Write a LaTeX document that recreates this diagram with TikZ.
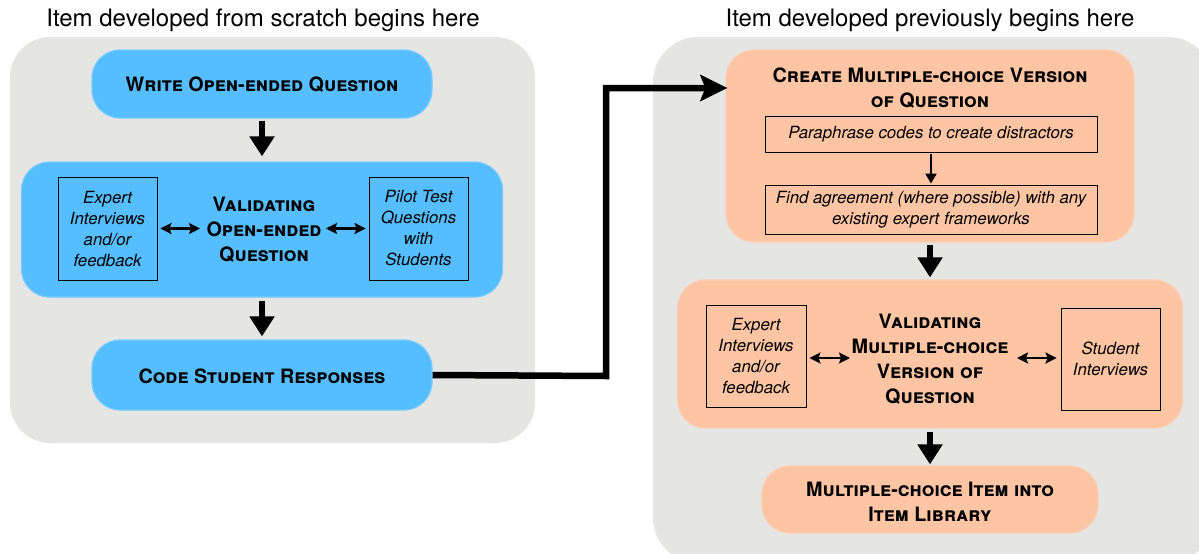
\documentclass[tikz,border=0pt]{standalone}
\usepackage{fontspec}
\setmainfont{TeX Gyre Heros}
\usetikzlibrary{arrows.meta}
\definecolor{panelgrey}{HTML}{E5E5E4}
\definecolor{boxblue}{HTML}{56BEFF}
\definecolor{boxorange}{HTML}{FEC5A5}
\tikzset{
  bluebox/.style={fill=boxblue, draw=boxblue!80!white, line width=1.2pt, rounded corners=28, inner sep=0pt},
  orangebox/.style={fill=boxorange, draw=boxorange!85!white, line width=1.2pt, rounded corners=28, inner sep=0pt},
  headtext/.style={font=\fontsize{19.8}{25}\selectfont\bfseries\scshape, align=center, inner sep=0pt},
  subbox/.style={draw=black, line width=0.9pt, font=\fontsize{16.8}{21}\selectfont\itshape, align=center, inner sep=0pt},
  bigdown/.style={-{Triangle[length=20pt,width=24pt]}, line width=6pt},
  smalldown/.style={-{Triangle[length=10pt,width=11pt]}, line width=2.2pt},
  dbl/.style={{Stealth[length=11pt,width=11pt,inset=2pt]}-{Stealth[length=11pt,width=11pt,inset=2pt]}, line width=2.4pt},
  connector/.style={-{Stealth[length=27pt,width=26pt,inset=5pt]}, line width=6.5pt},
  title/.style={font=\fontsize{24}{28}\selectfont, inner sep=0pt}
}
\begin{document}
\begin{tikzpicture}[x=1pt,y=-1pt]
\useasboundingbox (0,0) rectangle (1199,554);
% panels
\begin{scope}
\clip (0,0) rectangle (1199,554);
\fill[panelgrey, rounded corners=40] (10,37) rectangle (535,443);
\fill[panelgrey, rounded corners=45] (653,37) rectangle (1213,563);
\end{scope}
\node[title] (t1) at (263,20) {Item developed from scratch begins here};
\node[title] (t2) at (930,20) {Item developed previously begins here};

% left column
\node[bluebox, minimum width=340pt, minimum height=68pt] (write) at (262,84) {};
\node[headtext] (writet) at (262,85) {Write Open-ended Question};

\node[bluebox, minimum width=481pt, minimum height=135pt] (valo) at (262,229.5) {};
\node[subbox, minimum width=99pt, minimum height=103pt] (expl) at (107.5,228.5) {Expert\\Interviews\\and/or\\feedback};
\node[subbox, minimum width=99pt, minimum height=103pt] (pilot) at (418.5,228.5) {Pilot Test\\Questions\\with\\Students};
\node[headtext] (valot) at (264,230) {Validating\\Open-ended\\Question};

\node[bluebox, minimum width=340pt, minimum height=70pt] (code) at (262,375) {};
\node[headtext] (codet) at (262,376) {Code Student Responses};

\draw[bigdown] (write.south) ++(0,2) -- ([yshift=5pt]valo.north);
\draw[bigdown] (valo.south) ++(0,3) -- ([yshift=3pt]code.north);
\draw[dbl] ([xshift=3pt]expl.east) -- (200,228.5) coordinate (dl1);
\draw[dbl] (326,228.5) coordinate (dr1) -- ([xshift=-3pt]pilot.west);

% right column
\node[orangebox, minimum width=408pt, minimum height=192pt] (create) at (930,146) {};
\node[headtext] (createt) at (930,88) {Create Multiple-choice Version\\of Question};
\node[subbox, minimum width=332pt, minimum height=36pt] (para) at (931,134) {Paraphrase codes to create distractors};
\node[subbox, minimum width=332pt, minimum height=49pt] (find) at (931,209.5) {Find agreement (where possible) with any\\existing expert frameworks};
\draw[smalldown] (para.south) ++(0,2) -- ([yshift=1pt]find.north);

\node[orangebox, minimum width=505pt, minimum height=148pt] (valm) at (930,354) {};
\node[subbox, minimum width=100pt, minimum height=102pt] (expr) at (756,356) {Expert\\Interviews\\and/or\\feedback};
\node[subbox, minimum width=99pt, minimum height=102pt] (stud) at (1110.5,359) {Student\\Interviews};
\node[headtext] (valmt) at (930,359.5) {Validating\\Multiple-choice\\Version of\\Question};

\node[orangebox, minimum width=336pt, minimum height=67pt] (lib) at (930,499.5) {};
\node[headtext] (libt) at (930,502) {Multiple-choice Item into\\Item Library};

\draw[bigdown] (create.south) ++(0,2) -- ([yshift=2pt]valm.north);
\draw[bigdown] (valm.south) ++(0,3) -- ([yshift=1pt]lib.north);
\draw[dbl] ([xshift=3pt]expr.east|-0,358) -- (850,358) coordinate (dl);
\draw[dbl] (1017,358) coordinate (dr) -- ([xshift=-4pt]stud.west|-0,358);

% connector
\coordinate (tipc) at (create.west|-0,88);
\draw[connector] (code.east) -- (606,376) -- (606,88) -- ([xshift=2pt]tipc);
\end{tikzpicture}
\end{document}
